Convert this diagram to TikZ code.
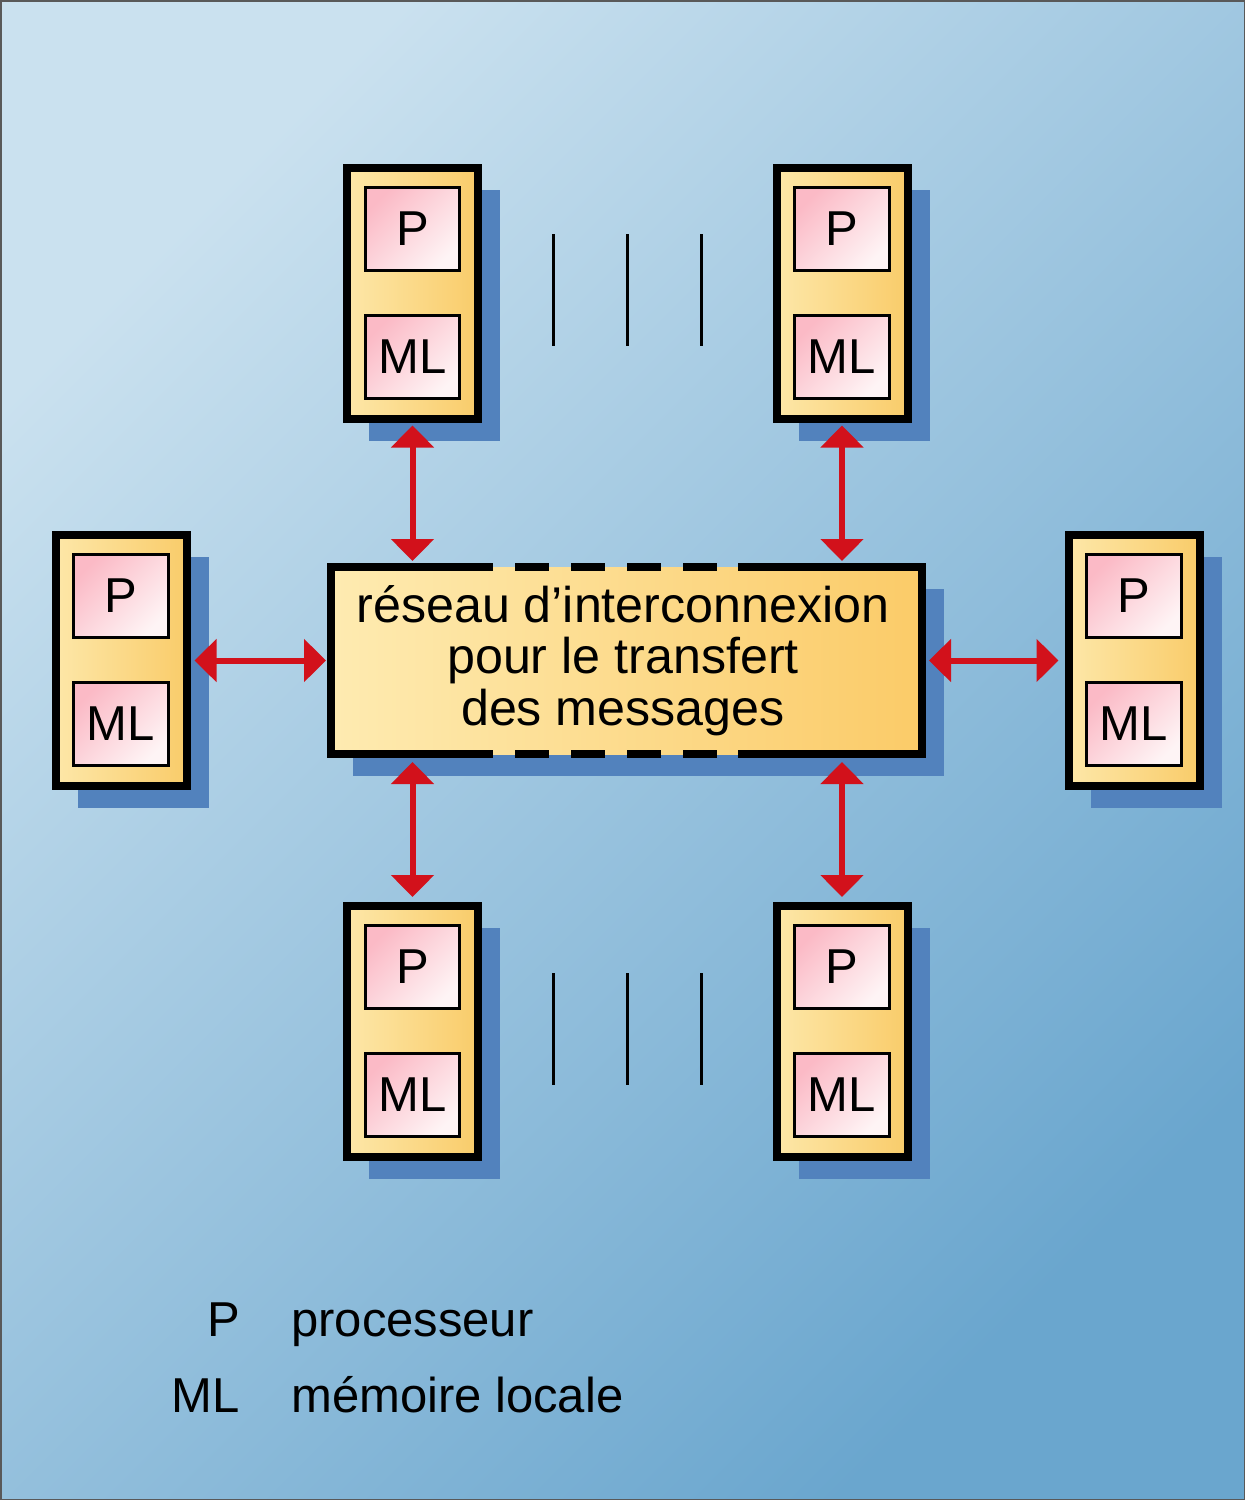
\documentclass[tikz,border=0pt]{standalone}
\usepackage{fontspec}
\setmainfont{Liberation Sans}
\usetikzlibrary{arrows.meta,calc}
\definecolor{bgA}{HTML}{CAE1EF}
\definecolor{bgB}{HTML}{6AA6CE}
\definecolor{modl}{HTML}{FDE7A8}
\definecolor{modr}{HTML}{F9CC6A}
\definecolor{cenl}{HTML}{FEEBB1}
\definecolor{cenr}{HTML}{FBCB68}
\definecolor{pinkA}{HTML}{FBBAC6}
\definecolor{pinkB}{HTML}{FEF4F5}
\definecolor{shadowblue}{HTML}{5282BD}
\definecolor{arrred}{HTML}{D2111B}
\newcommand\bigfont{\fontsize{49}{51.5}\selectfont}
\newcommand\cenfont{\fontsize{50.2}{51.5}\selectfont}
\begin{document}
\begin{tikzpicture}[x=1pt,y=-1pt,
  module/.style={draw=black, line width=8pt, minimum width=131pt, minimum height=251pt,
    inner sep=0pt, left color=modl, right color=modr},
  inbox/.style={draw=black, line width=3pt, minimum width=94.5pt, minimum height=83pt,
    inner sep=0pt, top color=pinkA, bottom color=pinkB, shading angle=45, font=\bigfont},
  shadowbox/.style={fill=shadowblue, inner sep=0pt, outer sep=0pt},
  centbox/.style={inner sep=0pt, outer sep=0pt, minimum width=591pt, minimum height=187pt,
    left color=cenl, right color=cenr},
  bord/.style={draw=black, line width=8.5pt, line cap=butt, line join=miter},
  arr/.style={draw=arrred, line width=6pt,
    {Triangle[width=42pt,length=22pt]}-{Triangle[width=42pt,length=22pt]}},
  dots/.style={draw=black, line width=3pt},
  txt/.style={inner sep=0pt, font=\bigfont},
]
\useasboundingbox (0,0) rectangle (1245,1500);
% background
\shade[top color=bgA, bottom color=bgB, shading angle=45] (0,0) rectangle (1245,1500);
\draw[draw=gray!70!black, line width=1.5pt] (0.75,0.75) rectangle (1244.25,1499.25);

% central network box
\node[shadowbox, minimum width=591pt, minimum height=187pt] at (648.5,682.5) {};
\node[centbox] (c) at (626.5,660.5) {};
\draw[bord] ($(c.north west)+(162,0)$) -- (c.north west) -- (c.south west) -- ++(162,0);
\draw[bord] ($(c.north east)+(-184,0)$) -- (c.north east) -- (c.south east) -- ++(-184,0);
\foreach \d in {184,240,296,352}{
  \draw[bord] ($(c.north west)+(\d,0)$) -- ++(34,0);
  \draw[bord] ($(c.south west)+(\d,0)$) -- ++(34,0);
}
\node[txt, align=center, font=\cenfont] (ctext) at (623,660.5) {réseau d’interconnexion\\pour le transfert\\des messages};

% modules
\foreach \n/\x/\y in {tl/412.5/293, tr/842/293, l/121/660.5, r/1134/660.5, bl/412.5/1031, br/842/1031}{
  \node[shadowbox, minimum width=131pt, minimum height=251pt] at (\x+22,\y+22) {};
  \node[module] (\n) at (\x,\y) {};
  \node[inbox] (\n-p) at (\x,\y-64.5) {P};
  \node[inbox] (\n-ml) at (\x,\y+63.5) {ML};
}

% arrows
\draw[arr, shorten <=3pt, shorten >=6pt] (tl.south) -- (c.north -| tl.south);
\draw[arr, shorten <=3pt, shorten >=6pt] (tr.south) -- (c.north -| tr.south);
\draw[arr, shorten <=8pt, shorten >=4.5pt] (c.south -| bl.north) -- (bl.north);
\draw[arr, shorten <=8pt, shorten >=4.5pt] (c.south -| br.north) -- (br.north);
\draw[arr, shorten <=4pt, shorten >=5pt] (l.east) -- (c.west |- l.east);
\draw[arr, shorten <=7pt, shorten >=6pt] (c.east |- r.west) -- (r.west);

% ellipsis lines
\foreach \x in {553,627,701}{
  \draw[dots] (\x,234) -- (\x,346);
  \draw[dots] (\x,973) -- (\x,1085);
}

% legend
\node[txt, anchor=base east] (lp) at (240,1336) {P};
\node[txt, anchor=base west] (lpt) at (291,1336) {processeur};
\node[txt, anchor=base east] (lml) at (240,1412) {ML};
\node[txt, anchor=base west] (lmlt) at (291,1412) {mémoire locale};
\end{tikzpicture}
\end{document}
